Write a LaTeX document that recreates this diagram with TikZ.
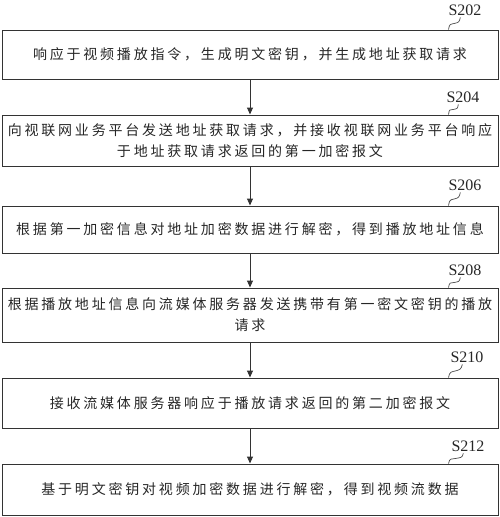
\documentclass[tikz,border=0pt]{standalone}
\usepackage{fontspec}
\setmainfont{Liberation Serif}
\newfontfamily\cjk{Noto Sans CJK SC}[LetterSpace=20]
\usetikzlibrary{arrows.meta,calc}
\begin{document}
\begin{tikzpicture}[x=1pt,y=-1pt,
  box/.style={draw=black!80,line width=1pt,minimum width=496pt,inner sep=0pt,align=center,
    font=\cjk\fontsize{14pt}{21pt}\selectfont,text=black!85},
  lbl/.style={font=\fontsize{16pt}{18pt}\selectfont,inner sep=0pt,anchor=base,text=black!85},
  flow/.style={draw=black!80,line width=1pt,-{Triangle[length=7pt,width=6pt]}},
  lead/.style={draw=black!70,line width=0.7pt}]
\useasboundingbox (0,0) rectangle (500,517);

\node[box,minimum height=49pt] (b1) at (250,54.5) {响应于视频播放指令，生成明文密钥，并生成地址获取请求};
\node[box,minimum height=51pt] (b2) at (250,140.5) {向视联网业务平台发送地址获取请求，并接收视联网业务平台响应\\于地址获取请求返回的第一加密报文};
\node[box,minimum height=47pt] (b3) at (250,229.5) {根据第一加密信息对地址加密数据进行解密，得到播放地址信息};
\node[box,minimum height=54pt] (b4) at (250,315) {根据播放地址信息向流媒体服务器发送携带有第一密文密钥的播放\\请求};
\node[box,minimum height=50pt] (b5) at (250,403) {接收流媒体服务器响应于播放请求返回的第二加密报文};
\node[box,minimum height=51pt] (b6) at (250,489.5) {基于明文密钥对视频加密数据进行解密，得到视频流数据};

\node[lbl] (l1) at (465,15) {S202};
\node[lbl] (l2) at (463,102) {S204};
\node[lbl] (l3) at (465,190) {S206};
\node[lbl] (l4) at (465,275) {S208};
\node[lbl] (l5) at (467,362) {S210};
\node[lbl] (l6) at (468,451) {S212};

\foreach \a/\b in {b1/b2,b2/b3,b3/b4,b4/b5,b5/b6}
  \draw[flow] (\a) -- (\b);

\foreach \i in {1,...,6}{
  \coordinate (c\i) at ($(b\i.north east)+(-50,0)$);
  \coordinate (e\i) at ($(l\i.south west)+(12,2)$);
  \coordinate (m\i) at ($(c\i)!0.5!(e\i)$);
  \draw[lead] (c\i) .. controls ($(c\i)+(1,-6)$) and ($(m\i)+(-4,1)$) .. (m\i)
    .. controls ($(m\i)+(4,-1)$) and ($(e\i)+(-1,5)$) .. (e\i);
}
\end{tikzpicture}
\end{document}
